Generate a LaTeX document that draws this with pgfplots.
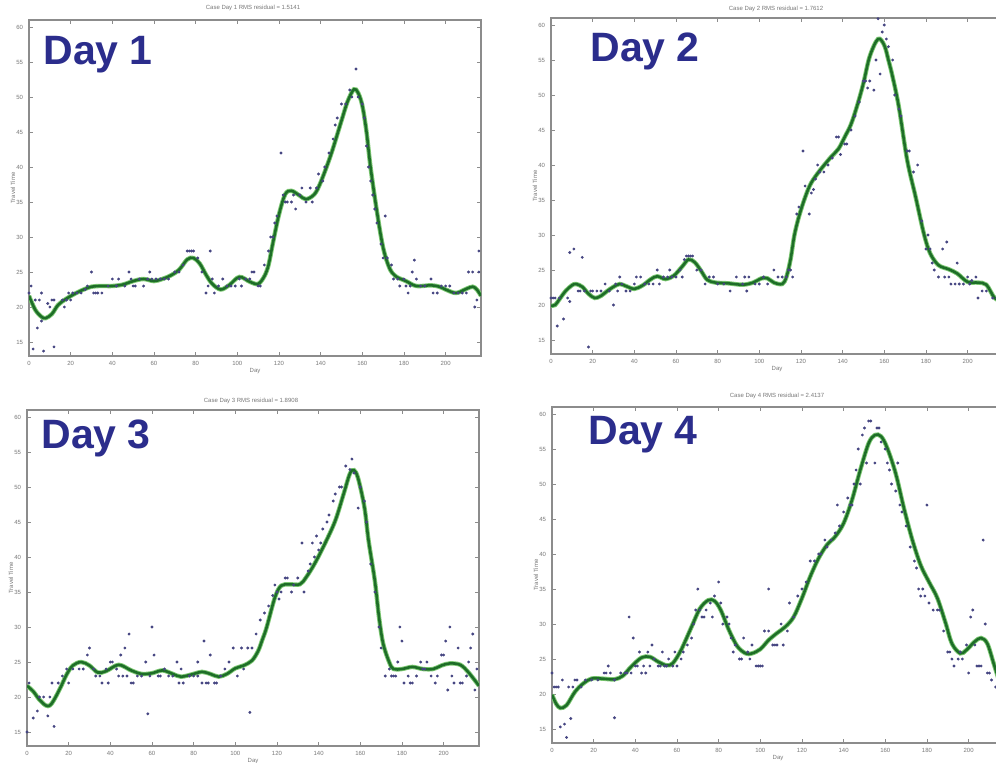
\documentclass[border=0pt]{standalone}
\usepackage{pgfplots}
\pgfplotsset{compat=1.18}
\usepackage{fontspec}
\setmainfont{Liberation Sans}

\definecolor{daynavy}{RGB}{43,45,140}
\definecolor{fitdark}{RGB}{30,110,40}
\definecolor{fitlight}{RGB}{125,200,115}
\definecolor{obsblue}{RGB}{70,70,130}
\definecolor{framegray}{RGB}{140,140,140}
\definecolor{labelgray}{RGB}{120,120,120}

\pgfplotsset{
  panel/.style={
    scale only axis,
    width=226pt, height=168pt,
    xmin=0, xmax=217, ymin=13, ymax=61,
    xtick={0,20,...,200}, ytick={15,20,...,60},
    tick align=inside, major tick length=2pt,
    axis line style={framegray, line width=0.6pt},
    every tick/.style={framegray, line width=0.4pt},
    /pgf/number format/assume math mode=true,
    tick label style={font=\fontsize{3}{3.5}\selectfont, text=labelgray},
    xticklabel style={yshift=1pt},
    yticklabel style={xshift=0.5pt},
    xlabel={Day}, ylabel={Travel Time},
    every axis x label/.style={at={(0.5,0)}, anchor=north, yshift=-2.6pt, font=\fontsize{3}{3.5}\selectfont, text=labelgray},
    every axis y label/.style={at={(0,0.5)}, xshift=-8pt, rotate=90, anchor=center, font=\fontsize{3}{3.5}\selectfont, text=labelgray},
    clip=true,
  },
  obs/.style={only marks, mark=*, mark size=0.5pt, color=obsblue, mark options={draw=obsblue, fill=obsblue}},
  fithalo/.style={smooth, tension=0.55, no marks, color=fitlight, line width=2.2pt},
  fitcore/.style={smooth, tension=0.55, no marks, color=fitdark, line width=1.3pt},
}
\tikzset{
  casetitle/.style={anchor=center, inner sep=0pt, font=\fontsize{3}{3.5}\selectfont, text=labelgray},
  daylabel/.style={anchor=base west, inner sep=0pt, text=daynavy, font=\fontsize{20.5}{22}\selectfont\bfseries},
}

\begin{document}
\begin{tikzpicture}
\path[use as bounding box] (0,0) rectangle (498pt,381pt);
\clip (0,0) rectangle (498pt,381pt);
\fill[white] (0,0) rectangle (498pt,381pt);

% ---------- Case Day 1 ----------
\begin{axis}[panel, at={(14.5pt,203pt)}, anchor=south west]
\addplot[obs] coordinates {
(0,22) (1,23) (2,14) (3,21) (4,17) (5,21) (6,18) (6,22) (7,13.7) (9,20.5) (10,20) (11,21) (12,21) (12,14.3)
(16,21) (17,20) (18,21) (19,22) (20,21) (21,22) (23,22) (25,22) (27,22.5) (28,23) (30,25) (31,22) (32,22)
(33,22) (35,22) (38,23) (40,24) (42,23) (43,24) (46,23) (48,25) (49,24) (50,23) (51,23) (53,24) (55,23)
(57,24) (58,25) (59,24) (61,24) (63,24) (65,24) (67,24) (70,25) (72,25) (74,26) (76,28) (77,28) (78,28)
(79,28) (81,27) (83,25) (85,22) (86,23) (87,28) (88,24) (89,22) (91,23) (93,24) (95,23) (97,23) (99,23)
(101,24) (102,23) (104,24) (106,24) (107,25) (108,25) (110,23) (111,23) (113,26) (115,28) (116,30) (117,30)
(118,32) (119,33) (121,42) (122,36) (123,35) (124,35) (126,35) (127,36) (128,34) (130,36) (131,37) (133,35)
(135,37) (136,35) (138,37) (139,39) (141,38) (142,40) (144,42) (146,44) (147,46) (148,47) (150,49) (152,49)
(154,51) (155,50) (157,54) (158,50) (160,49) (161,47) (162,43) (163,40) (164,38) (165,36) (166,34) (167,32)
(169,29) (170,27) (171,33) (172,27) (174,26) (175,24) (177,24) (178,23) (180,24) (181,23) (182,22) (183,23)
(184,25) (185,26.7) (186,24) (188,23) (190,23) (193,24) (194,22) (196,22) (198,23) (200,23) (202,23) (204,22)
(206,22) (208,22) (210,22) (211,25) (213,25) (214,20) (215,21) (216,28) (216,25)
};
\pgfplotstableread{
x y
0 21.6
3 19.6
6 18.6
8 18.4
11 19
14 20.3
18 21.2
24 22.2
30 22.9
35 23.0
40 23.0
45 23.2
50 23.7
55 24.0
60 23.7
64 24.0
68 24.5
72 25.3
76 26.8
79 27.0
82 26.2
85 24.6
88 23.3
92 22.5
96 23.1
101 24.3
106 23.6
110 23.3
113 24.4
115 26
117 29.0
120 33.2
123 36.1
126 36.6
130 35.9
133 35.4
137 36.1
140 37.8
145 41.8
150 46.6
153 49.4
156 51.1
158 50.6
160 48.8
162 45.1
164 39.9
167 33.7
170 28.5
173 25.6
176 24.4
181 23.7
186 23.0
193 23.1
197 22.9
200 22.5
205 22.0
210 22.6
213 22.9
215 22.5
217 21.6
}\fitA
\addplot[fithalo] table {\fitA};
\addplot[fitcore] table {\fitA};
\end{axis}

% ---------- Case Day 2 ----------
\begin{axis}[panel, at={(275.5pt,204pt)}, anchor=south west]
\addplot[obs] coordinates {
(0,21) (1,21) (2,21) (3,17) (4,21) (6,18) (8,21) (9,20.5) (9,27.5) (11,28) (13,22) (14,22) (15,26.8) (16,22)
(18,14) (19,22) (20,22) (22,22) (24,22) (26,23) (28,22) (30,20) (31,23) (32,22) (33,24) (34,23) (36,22)
(38,22) (40,23) (41,24) (43,24) (45,23) (47,23) (49,23) (51,25) (52,23) (54,24) (56,24) (57,25) (58,24)
(60,24) (62,25) (63,24) (64,26.5) (65,27) (66,27) (67,27) (68,27) (70,25) (72,25) (74,23) (76,24) (78,24)
(80,23) (83,23) (86,22) (89,24) (92,23) (93,24) (94,22) (95,24) (98,23) (100,23) (102,24) (104,23) (107,25)
(109,24) (111,24) (113,24) (114,25) (115,25) (116,24) (118,33) (119,34) (121,42) (122,37) (124,33) (125,36)
(126,36.5) (127,38) (128,40) (129,39) (131,39) (133,40) (135,41) (137,44) (138,44) (139,41.5) (141,43)
(142,43) (144,45) (146,47) (148,49) (150,52) (151,52) (152,51) (153,52) (155,50.7) (156,55) (157,60.9)
(158,53) (159,59) (160,60) (161,58) (162,56.9) (164,55) (165,50) (167,48) (168,47) (171,42) (172,42)
(174,39) (176,40) (178,32) (180,28) (181,30) (182,28) (183,26) (184,25) (186,24) (188,28) (189,24) (190,29)
(191,24) (192,23) (194,23) (195,26) (196,23) (198,23) (200,24) (201,23) (202,23.5) (204,24) (205,21)
(207,22) (209,22) (212,21) (214,21) (216,20.5)
};
\pgfplotstableread{
x y
0 19.9
2 20
4 20.8
7 22
10 22.8
12 23.0
15 22.6
18 21.6
21 21.0
24 21.3
27 22.0
30 22.6
33 23.0
36 22.7
40 22.3
44 22.8
48 23.7
51 24.1
55 23.7
59 24.2
63 25.5
66 26.5
69 26.1
72 24.9
75 23.6
79 23.2
85 23.1
92 22.9
97 23.2
101 23.8
104 23.8
107 23.2
111 23.0
113 24.0
115 26.5
117 30.2
120 33.6
124 36.9
128 38.8
134 41.0
138 42.3
141 44
144 45.8
147 48.5
150 51.7
153 55.5
157 58.0
160 57.1
162 55
164 52.6
167 48.3
171 40.7
175 35.5
179 30.2
182 27.4
186 25.7
191 25.1
195 24.5
200 23.3
205 23.2
209 22.9
213 21.0
217 20.5
}\fitB
\addplot[fithalo] table {\fitB};
\addplot[fitcore] table {\fitB};
\end{axis}

% ---------- Case Day 3 ----------
\begin{axis}[panel, at={(13.5pt,8pt)}, anchor=south west]
\addplot[obs] coordinates {
(0,15) (1,22) (3,17) (5,18) (6,20) (8,20) (10,17.3) (11,20) (13,15.8) (12,22) (15,22) (17,23) (19,24) (20,22)
(22,24) (25,24) (27,24) (29,26) (30,27) (32,24) (33,23) (35,23) (36,22) (38,24) (39,22) (40,25) (41,25)
(43,24) (44,23) (45,26) (46,23) (47,27) (48,23) (49,29) (50,22) (51,22) (53,23) (55,23) (57,25) (58,17.6)
(59,23) (60,30) (61,26) (63,23) (64,23) (66,24) (68,23) (70,23) (72,25) (73,22) (74,24) (75,22) (78,23)
(80,23) (82,23) (82,25) (84,22) (85,28) (86,22) (87,22) (88,26) (90,22) (91,22) (93,23) (95,24) (97,25)
(99,27) (101,23) (103,27) (104,24) (106,27) (107,17.8) (108,27) (110,29) (112,31) (114,32) (116,33)
(118,34.5) (119,36) (120,35) (121,34) (122,35) (124,37) (125,37) (127,35) (128,36) (130,37) (132,42)
(133,35) (135,38) (136,39) (137,42) (138,40) (139,43) (140,41) (141,42) (142,44) (144,45) (145,46) (147,48)
(148,49) (150,50) (151,50) (153,53) (155,52.5) (156,54) (157,52) (159,47) (160,50) (162,48) (163,45)
(165,39) (167,35) (169,30) (170,27) (172,23) (174,24) (175,23) (176,23) (177,23) (178,25) (179,30) (180,28)
(181,22) (183,23) (184,22) (185,22) (187,23) (189,25) (190,24) (191,24) (192,25) (194,23) (196,22) (197,23)
(199,26) (200,26) (201,28) (202,21) (203,30) (204,23) (205,22) (207,27) (208,22) (209,22) (211,23) (212,25)
(213,27) (214,29) (215,21) (216,24)
};
\pgfplotstableread{
x y
0 21.6
3 20.8
6 19.6
9 18.8
11 18.8
13 19.6
16 21.3
19 23.2
22 24.5
26 25.0
30 24.5
34 23.5
38 23.7
44 24.6
50 23.8
55 23.3
60 23.4
65 23.8
70 23.3
74 22.9
80 23.3
84 23.6
88 23.3
92 22.9
96 23.3
100 24.1
104 24.5
108 25.2
111 26.6
113 28.2
115 29.9
119 34.2
122 35.9
126 36.1
131 36.1
134 37.1
138 39.0
143 41.9
148 45.2
152 49.0
155 51.9
157 52.4
159 51.2
162 47.1
164 42.3
167 36.6
169 31.4
171 27.6
174 24.9
176 24.0
180 24.0
185 24.3
190 24.0
195 24.0
199 24.5
203 24.8
208 24.6
212 23.5
217 21.6
}\fitC
\addplot[fithalo] table {\fitC};
\addplot[fitcore] table {\fitC};
\end{axis}

% ---------- Case Day 4 ----------
\begin{axis}[panel, at={(276pt,9.5pt)}, anchor=south west]
\addplot[obs] coordinates {
(0,23) (1,21) (2,21) (3,21) (4,15.3) (5,22) (6,15.7) (7,13.8) (8,21) (9,16.5) (10,21) (11,22) (12,22) (14,21)
(16,22) (19,22) (22,22) (25,23) (26,23) (27,24) (28,23) (30,22) (30,16.6) (33,23) (35,23) (36,23) (37,31)
(38,23) (39,28) (40,24) (41,24) (42,26) (43,23) (44,24) (45,23) (46,26) (47,24) (48,27) (49,25) (51,24)
(52,24) (53,26) (54,24) (55,24) (56,25) (58,24) (59,26) (60,24) (62,25) (63,26) (65,27) (67,28) (68,30)
(69,32) (70,35) (71,32) (72,31) (73,31) (74,32) (76,33) (77,31) (78,34) (80,36) (81,33) (82,30) (84,31)
(85,30) (86,28) (87,26) (88,27) (90,25) (91,25) (92,28) (94,26) (95,25) (96,27) (98,24) (99,24) (100,24)
(101,24) (102,29) (104,35) (104,29) (106,27) (107,27) (108,27) (110,30) (111,27) (113,29) (114,33) (116,31)
(118,34) (120,35) (122,36) (124,39) (126,39) (128,40) (129,40) (131,42) (132,41) (134,42) (136,43) (137,47)
(138,44) (140,46) (142,48) (143,47) (144,47) (145,50) (146,52) (147,55) (148,50) (149,57) (150,58) (151,53)
(152,59) (153,59) (155,53) (156,58) (157,58) (158,56) (160,55) (161,53) (162,52) (163,50) (165,49) (166,53)
(167,47) (168,46) (170,44) (172,41) (174,39) (175,38) (176,35) (177,34) (178,35) (179,34) (180,47) (181,33)
(183,32) (185,32) (186,32) (188,29) (190,26) (191,26) (192,25) (193,24) (195,25) (196,26) (197,25) (199,27)
(200,23) (201,31) (202,32) (203,27) (204,24) (205,24) (206,24) (207,42) (208,30) (209,23) (210,23) (211,22)
(213,21) (215,23)
};
\pgfplotstableread{
x y
0 19.9
2 18.6
4 18.0
7 18.4
11 20.3
15 21.5
19 22.2
24 22.2
30 22.1
34 22.6
38 23.9
43 25.2
47 25.3
51 24.6
55 24.1
58 24.4
62 26.3
67 29.6
71 32.2
75 33.4
78 33.3
81 32.0
85 29.1
89 26.8
93 25.8
96 25.8
100 26.4
104 27.7
108 28.7
112 29.6
116 31.0
120 33.7
124 36.8
128 39.4
132 41.3
136 42.5
140 44.4
144 47.7
148 52.0
152 55.8
155 57.0
158 56.8
161 55.1
165 51.5
169 46.5
173 42.0
177 38.4
181 36.0
185 33.7
189 30.1
192 27.2
196 25.8
199 26.3
203 27.5
206 28.0
209 27.2
212 24.4
214 22.5
217 19.5
}\fitD
\addplot[fithalo] table {\fitD};
\addplot[fitcore] table {\fitD};
\end{axis}

% case titles above each panel
\node[casetitle] at (126.5pt,377pt) {Case Day 1 RMS residual = 1.5141};
\node[casetitle] at (388pt,376.5pt) {Case Day 2 RMS residual = 1.7612};
\node[casetitle] at (125.5pt,180.5pt) {Case Day 3 RMS residual = 1.8908};
\node[casetitle] at (388.5pt,183pt) {Case Day 4 RMS residual = 2.4137};

% panel captions
\node[daylabel] at (21.5pt,348.5pt) {Day 1};
\node[daylabel] at (295pt,350pt) {Day 2};
\node[daylabel] at (20.5pt,157pt) {Day 3};
\node[daylabel] at (294pt,159pt) {Day 4};
\end{tikzpicture}
\end{document}
